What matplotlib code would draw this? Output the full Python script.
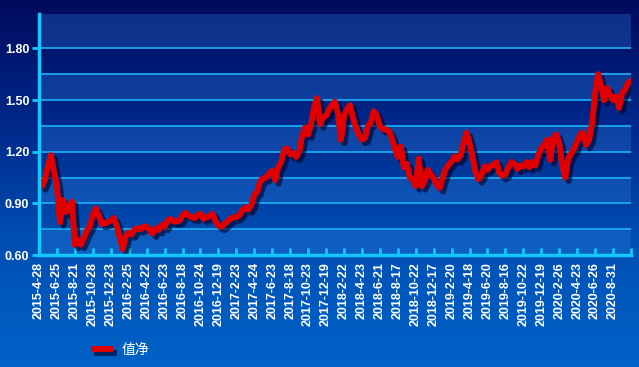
import numpy as np
import matplotlib
matplotlib.use("Agg")
import matplotlib.pyplot as plt
import matplotlib.patheffects as pe
from matplotlib.colors import LinearSegmentedColormap

# net value (6 samples per label interval)
nav = [
    1.03, 1.00, 1.04, 1.12, 1.18, 1.085, 1.00, 0.79, 0.92, 0.85,
    0.88, 0.91, 0.66, 0.69, 0.66, 0.70, 0.74, 0.77, 0.83, 0.87,
    0.83, 0.78, 0.785, 0.79, 0.80, 0.815, 0.77, 0.70, 0.635, 0.71,
    0.73, 0.72, 0.75, 0.755, 0.75, 0.765, 0.765, 0.745, 0.725, 0.755,
    0.745, 0.775, 0.765, 0.80, 0.81, 0.795, 0.795, 0.80, 0.83, 0.845,
    0.83, 0.82, 0.815, 0.83, 0.84, 0.81, 0.82, 0.825, 0.84, 0.80,
    0.77, 0.765, 0.78, 0.795, 0.81, 0.82, 0.82, 0.83, 0.86, 0.875,
    0.865, 0.89, 0.95, 0.97, 1.03, 1.045, 1.05, 1.075, 1.09, 1.035,
    1.11, 1.14, 1.21, 1.22, 1.185, 1.19, 1.17, 1.20, 1.29, 1.34,
    1.30, 1.36, 1.46, 1.51, 1.36, 1.40, 1.41, 1.445, 1.474, 1.49,
    1.42, 1.27, 1.405, 1.445, 1.47, 1.40, 1.34, 1.30, 1.27, 1.28,
    1.35, 1.37, 1.435, 1.41, 1.35, 1.33, 1.33, 1.32, 1.28, 1.22,
    1.17, 1.23, 1.11, 1.13, 1.05, 1.04, 1.00, 1.16, 1.00, 1.03,
    1.095, 1.07, 1.047, 1.008, 0.99, 1.05, 1.10, 1.124, 1.143, 1.173,
    1.155, 1.18, 1.25, 1.31, 1.25, 1.17, 1.08, 1.04, 1.066, 1.114,
    1.095, 1.12, 1.12, 1.14, 1.076, 1.06, 1.07, 1.11, 1.14, 1.13,
    1.10, 1.12, 1.114, 1.14, 1.11, 1.14, 1.12, 1.18, 1.22, 1.24,
    1.27, 1.153, 1.28, 1.30, 1.25, 1.12, 1.05, 1.16, 1.19, 1.22,
    1.26, 1.30, 1.31, 1.24, 1.27, 1.37, 1.54, 1.65, 1.58, 1.50,
    1.57, 1.53, 1.50, 1.52, 1.455, 1.54, 1.56, 1.60, 1.61,
]

date_labels = [
    "2015-4-28", "2015-6-25", "2015-8-21", "2015-10-28", "2015-12-23",
    "2016-2-25", "2016-4-22", "2016-6-23", "2016-8-18", "2016-10-24",
    "2016-12-19", "2017-2-23", "2017-4-24", "2017-6-23", "2017-8-18",
    "2017-10-23", "2017-12-19", "2018-2-22", "2018-4-23", "2018-6-21",
    "2018-8-17", "2018-10-22", "2018-12-17", "2019-2-20", "2019-4-18",
    "2019-6-20", "2019-8-16", "2019-10-22", "2019-12-19", "2020-2-26",
    "2020-4-23", "2020-6-26", "2020-8-31",
]
per_label = 6

cyan = "#14c8ff"
grid_c = "#1aa8ee"

fig = plt.figure(figsize=(6.39, 3.67), dpi=100)

# background gradient over the whole figure
bg = fig.add_axes([0, 0, 1, 1], zorder=0)
cmap = LinearSegmentedColormap.from_list("bg", ["#000a5c", "#00288a", "#0050b4", "#0062c8"])
grad = np.linspace(0, 1, 256).reshape(-1, 1)
bg.imshow(grad, aspect="auto", cmap=cmap, extent=[0, 1, 0, 1], origin="upper")
bg.set_axis_off()

ax = fig.add_axes([39 / 639, 1 - 255 / 367, 592 / 639, 241 / 367], zorder=1)
ax.patch.set_alpha(0)

x = np.arange(len(nav))
ax.set_xlim(0, len(nav) - 1)
ax.set_ylim(0.6, 2.0)

# alternating lighter bands
for lo in [0.60, 0.90, 1.20, 1.50, 1.80]:
    hi = lo + 0.15 if lo < 1.8 else 2.0
    ax.axhspan(lo, hi, color="#2f7fe0", alpha=0.3, lw=0, zorder=0)

for y in np.arange(0.75, 1.81, 0.15):
    ax.axhline(y, color=grid_c, lw=1.3, zorder=1)

ax.plot(x, nav, color="#e00000", lw=4.3, solid_joinstyle="round", zorder=3,
        label="值净",
        path_effects=[pe.SimpleLineShadow(offset=(2.5, -2.5), shadow_color="#000025", alpha=0.6),
                      pe.Normal()])

ax.set_yticks(np.arange(0.6, 1.81, 0.3))
ax.set_yticklabels([f"{v:.2f}" for v in np.arange(0.6, 1.81, 0.3)])
ticks = np.arange(0, len(nav), per_label)
ax.set_xticks(ticks)
ax.set_xticklabels(date_labels + [""] * (len(ticks) - len(date_labels)), rotation=90)

for side in ["top", "right"]:
    ax.spines[side].set_visible(False)
for side in ["left", "bottom"]:
    ax.spines[side].set_color(cyan)
    ax.spines[side].set_linewidth(2.5)
    ax.spines[side].set_zorder(4)

ax.tick_params(axis="y", colors=cyan, length=5, width=2, direction="out", pad=2)
ax.tick_params(axis="x", colors=cyan, length=5, width=2, direction="in", pad=5)
for lab in ax.get_yticklabels() + ax.get_xticklabels():
    lab.set_color("white")
    lab.set_fontweight("bold")
    lab.set_fontfamily("Liberation Sans")
    lab.set_fontsize(9)

leg = fig.legend(loc="center left", bbox_to_anchor=(84 / 639, 1 - 350 / 367), frameon=False,
                 handlelength=1.2, handletextpad=0.8, borderpad=0.2,
                 prop={"family": ["Noto Sans CJK SC", "DejaVu Sans"], "size": 10})
for t in leg.get_texts():
    t.set_color("white")

fig.savefig("out.png", dpi=100)
